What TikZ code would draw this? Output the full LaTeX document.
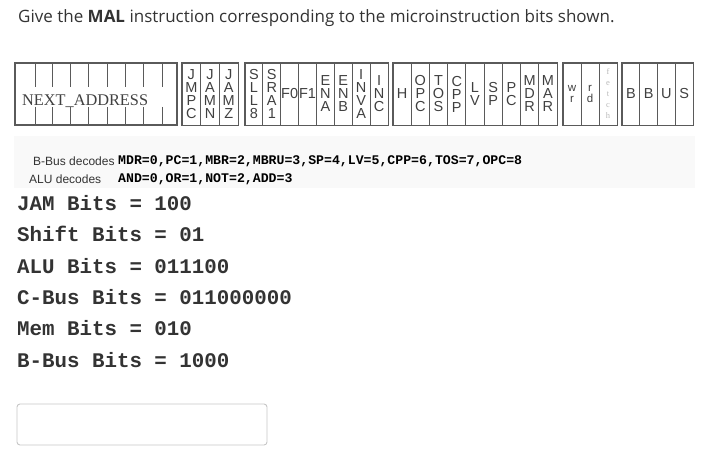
\documentclass[tikz,border=0pt]{standalone}
\usepackage{fontspec}
\setmainfont{Open Sans}
\newfontfamily\cellfont{Liberation Sans}
\newfontfamily\addrfont{Liberation Serif}
\newfontfamily\codefont{Liberation Mono}
\usetikzlibrary{positioning}
\definecolor{TextGray}{HTML}{333333}
\definecolor{BoxLine}{HTML}{5A5A5A}
\definecolor{LetterGray}{HTML}{404040}

\begin{document}
\begin{tikzpicture}[
  x=1pt, y=-1pt,
  cell/.style={draw=BoxLine, line width=0.8pt, minimum height=62pt, inner sep=0pt,
    align=center, text=LetterGray, font=\cellfont\fontsize{14.5}{13}\selectfont},
  groupline/.style={draw=BoxLine, line width=1.4pt},
  tick/.style={draw=BoxLine, line width=0.9pt},
  bitline/.style={anchor=west, inner sep=0pt, text=TextGray,
    font=\codefont\bfseries\fontsize{20.8}{20.8}\selectfont},
  decode/.style={anchor=west, inner sep=0pt, text=TextGray,
    font=\cellfont\fontsize{12}{12}\selectfont},
  decodeval/.style={anchor=west, inner sep=0pt, text=black,
    font=\codefont\bfseries\fontsize{13.2}{13.2}\selectfont}
]
\useasboundingbox (0,0) rectangle (727,462);

% Question
\node[anchor=west, inner sep=0pt, text=TextGray, font=\fontsize{17}{17}\selectfont]
  (question) at (18,18) {Give the \textbf{MAL} instruction corresponding to the microinstruction bits shown.};

% Next address field
\node[groupline, minimum width=162pt, minimum height=62pt, inner sep=0pt] (next) at (96,94) {};
\node[anchor=west, inner sep=0pt, text=LetterGray, font=\addrfont\fontsize{16.3}{16.3}\selectfont]
  (nextlbl) at (22,101) {NEXT\_ADDRESS};
\foreach \x in {35,52.5,70.5,88.5,107,125,143,162} {
  \draw[tick] (\x,63) -- (\x,87);
  \draw[tick] (\x,107) -- (\x,125);
}

% JAM bits
\foreach \lbl [count=\i from 0] in {{J\\M\\P\\C},{J\\A\\M\\N},{J\\A\\M\\Z}} {
  \node[cell, minimum width=18.67pt] (jam\i) at ({182+18.67*(\i+0.5)},94) {\lbl};
}
\draw[groupline] (jam0.north west) rectangle (jam2.south east);

% Shifter and ALU bits
\foreach \lbl [count=\i from 0] in {{S\\L\\L\\8},{S\\R\\A\\1},F0,F1,{E\\N\\A},{E\\N\\B},{I\\N\\V\\A},{I\\N\\C}} {
  \node[cell, minimum width=17.875pt] (alu\i) at ({245+17.875*(\i+0.5)},94) {\lbl};
}
\draw[groupline] (alu0.north west) rectangle (alu7.south east);

% C bus bits
\foreach \lbl [count=\i from 0] in {H,{O\\P\\C},{T\\O\\S},{C\\P\\P},{L\\V},{S\\P},{P\\C},{M\\D\\R},{M\\A\\R}} {
  \node[cell, minimum width=18.22pt] (cbus\i) at ({393+18.22*(\i+0.5)},94) {\lbl};
}
\draw[groupline] (cbus0.north west) rectangle (cbus8.south east);

% Memory bits
\node[cell, minimum width=18pt, font=\cellfont\fontsize{11.5}{11.5}\selectfont] (mem0) at (572,94) {w\\r};
\node[cell, minimum width=18pt, font=\cellfont\fontsize{11.5}{11.5}\selectfont] (mem1) at (590,94) {r\\d};
\node[cell, minimum width=18pt, text=gray!55, font=\addrfont\fontsize{8.5}{11}\selectfont] (mem2) at (608,94) {f\\e\\t\\c\\h};
\draw[groupline] (mem0.north west) rectangle (mem2.south east);

% B bus bits
\foreach \lbl [count=\i from 0] in {B,B,U,S} {
  \node[cell, minimum width=17.75pt] (bbus\i) at ({622+17.75*(\i+0.5)},94) {\lbl};
}
\draw[groupline] (bbus0.north west) rectangle (bbus3.south east);

% Decodes
\fill[gray!5] (14,136) rectangle (695,188);
\node[decode] (bdec) at (33,161) {B-Bus decodes};
\node[decodeval] (bval) at (118,161) {MDR=0,PC=1,MBR=2,MBRU=3,SP=4,LV=5,CPP=6,TOS=7,OPC=8};
\node[decode] (adec) at (29,179) {ALU decodes};
\node[decodeval] (aval) at (118,179) {AND=0,OR=1,NOT=2,ADD=3};

% Bit values
\node[bitline] (jambits) at (17,203) {JAM Bits = 100};
\node[bitline] (shiftbits) at (17,234) {Shift Bits = 01};
\node[bitline] (alubits) at (17,266) {ALU Bits = 011100};
\node[bitline] (cbits) at (17,297) {C-Bus Bits = 011000000};
\node[bitline] (membits) at (17,328) {Mem Bits = 010};
\node[bitline] (bbits) at (17,360) {B-Bus Bits = 1000};

% Answer box
\draw[draw=gray!45, line width=0.9pt, rounded corners=3pt] (17,404) rectangle (267,445);

\end{tikzpicture}
\end{document}
